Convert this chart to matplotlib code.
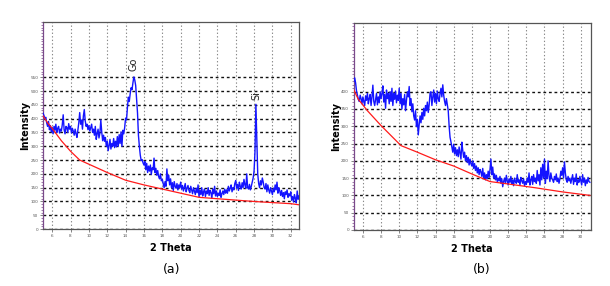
import matplotlib
matplotlib.use("Agg")
import matplotlib.pyplot as plt
import numpy as np
from matplotlib.ticker import MultipleLocator

# XRD scan (a): start angle, step, intensities
start_a, step_a = 5.0, 0.1
intensity_a = [
    420, 412, 398, 405, 385, 372, 390, 360, 375, 352,
    368, 345, 372, 358, 380, 350, 365, 372, 348, 362,
    355, 378, 414, 360, 345, 372, 368, 350, 382, 362,
    372, 348, 365, 355, 340, 362, 345, 332, 360, 385,
    422, 380, 395, 362, 410, 433, 392, 372, 380, 360,
    375, 355, 368, 380, 350, 362, 340, 372, 325, 345,
    362, 330, 348, 395, 352, 320, 340, 318, 332, 300,
    318, 284, 302, 325, 290, 310, 300, 328, 295, 318,
    298, 335, 300, 342, 310, 352, 300, 358, 345, 368,
    402, 395, 440, 478, 462, 490, 512, 505, 530, 551,
    540, 520, 470, 420, 340, 300, 268, 248, 252, 240,
    232, 245, 215, 238, 205, 228, 210, 232, 198, 222,
    215, 257, 205, 220, 195, 212, 190, 182, 200, 175,
    180, 165, 150, 172, 155, 218, 175, 195, 160, 182,
    150, 168, 140, 172, 155, 148, 165, 142, 160, 150,
    170, 145, 158, 138, 152, 165, 135, 148, 158, 140,
    132, 155, 142, 128, 150, 138, 125, 148, 132, 160,
    118, 140, 125, 150, 120, 135, 145, 118, 138, 128,
    150, 122, 140, 132, 112, 145, 128, 155, 120, 138,
    118, 130, 122, 142, 115, 128, 138, 125, 145, 130,
    142, 130, 155, 138, 148, 160, 135, 150, 142, 165,
    176, 148, 162, 140, 170, 155, 145, 168, 150, 180,
    160, 148, 200, 150, 145, 162, 142, 155, 170, 185,
    210, 280, 452, 330, 200, 165, 150, 175, 160, 185,
    170, 150, 145, 165, 135, 160, 142, 130, 150, 138,
    125, 148, 135, 160, 142, 170, 130, 150, 138, 122,
    140, 118, 132, 110, 135, 125, 142, 115, 128, 120,
    135, 105, 118, 98, 125, 112, 95, 138, 108, 120,
]
bg_x_a = [5, 5.5, 6, 7, 8, 9, 10, 12, 14, 16, 18, 20, 22, 24, 26, 28, 30, 32, 32.9]
bg_y_a = [410, 385, 365, 320, 282, 250, 235, 205, 177, 160, 145, 130, 115, 110, 105, 100, 96, 92, 88]

# XRD scan (b)
start_b, step_b = 5.0, 0.1
intensity_b = [
    430, 440, 425, 402, 390, 378, 372, 390, 380, 365,
    385, 372, 360, 388, 375, 395, 365, 380, 392, 360,
    385, 419, 372, 360, 378, 395, 362, 385, 368, 400,
    380, 395, 417, 370, 392, 352, 405, 380, 395, 365,
    400, 372, 410, 360, 395, 378, 402, 368, 390, 375,
    410, 365, 395, 350, 380, 362, 392, 345, 375, 400,
    385, 415, 360, 380, 342, 365, 330, 318, 345, 300,
    320, 275, 305, 330, 310, 340, 320, 352, 330, 360,
    345, 370, 340, 362, 395, 400, 360, 385, 405, 370,
    395, 365, 402, 380, 372, 395, 410, 385, 420, 390,
    372, 360, 380, 362, 345, 300, 268, 255, 240, 225,
    248, 220, 238, 215, 232, 212, 240, 222, 205, 254,
    230, 210, 225, 200, 215, 195, 210, 188, 205, 192,
    185, 200, 178, 192, 172, 185, 165, 180, 160, 175,
    168, 155, 178, 150, 165, 145, 160, 148, 170, 152,
    175, 205, 160, 182, 150, 162, 145, 158, 140, 150,
    142, 155, 135, 148, 125, 140, 150, 135, 158, 142,
    130, 148, 138, 155, 132, 145, 128, 150, 140, 135,
    160, 138, 145, 130, 152, 142, 135, 148, 128, 140,
    132, 150, 138, 165, 130, 145, 155, 132, 160, 140,
    150, 135, 172, 142, 160, 130, 180, 145, 190, 150,
    205, 135, 170, 148, 200, 155, 140, 165, 150, 145,
    138, 155, 145, 162, 140, 150, 135, 148, 170, 158,
    180, 150, 197, 165, 145, 138, 155, 142, 150, 135,
    148, 160, 132, 150, 140, 162, 130, 145, 138, 155,
    142, 130, 160, 138, 150, 128, 145, 135, 152, 140,
    138,
]
bg_x_b = [5, 5.5, 6.5, 8, 10.2, 12, 14, 16, 18, 20, 22, 25, 28, 31]
bg_y_b = [405, 378, 345, 302, 244, 225, 203, 185, 162, 140, 133, 122, 110, 100]


def xrd_panel(ax, x, y, bgx, bgy, xlim, ylim, ymax_tick, xmax_tick):
    ax.plot(x, y, color="#1414ff", lw=1.0, zorder=3)
    ax.plot(bgx, bgy, color="#ff1a1a", lw=0.9, zorder=4)
    ax.set_xlim(*xlim)
    ax.set_ylim(*ylim)
    ax.set_xticks(np.arange(6, xmax_tick + 1, 2))
    ax.set_yticks(np.arange(0, ymax_tick + 1, 50))
    ax.yaxis.set_minor_locator(MultipleLocator(10))
    ax.tick_params(axis="both", labelsize=3, colors="#555555", length=2, width=0.5, pad=1.5)
    ax.tick_params(axis="y", which="minor", length=1.5, width=0.5, colors="#7a4a8a")
    ax.grid(axis="y", color="#111111", ls=(0, (2, 2)), lw=1.0, zorder=1)
    ax.grid(axis="x", color="#888888", ls=(0, (1.2, 2)), lw=0.8, zorder=1)
    for s in ax.spines.values():
        s.set_color("#555555")
        s.set_linewidth(0.9)
    ax.spines["left"].set_color("#7a4a8a")
    ax.set_xlabel("2 Theta", fontsize=7, fontweight="bold", labelpad=3.5)
    ax.set_ylabel("Intensity", fontsize=7, fontweight="bold", labelpad=0)


fig = plt.figure(figsize=(6.1, 2.86), dpi=100)

tt_a = start_a + step_a * np.arange(len(intensity_a))
ax1 = fig.add_axes([0.0705, 0.199, 0.4197, 0.724])
xrd_panel(ax1, tt_a, intensity_a, bg_x_a, bg_y_a, (5, 32.9), (0, 750), 550, 32)
ax1.text(14.9, 598, "Go", rotation=90, ha="center", va="center", fontsize=7, color="#222222")
ax1.text(28.3, 482, "Si", rotation=90, ha="center", va="center", fontsize=7, color="#222222")

tt_b = start_b + step_b * np.arange(len(intensity_b))
ax2 = fig.add_axes([0.580, 0.196, 0.3885, 0.725])
xrd_panel(ax2, tt_b, intensity_b, bg_x_b, bg_y_b, (5, 31.1), (0, 600), 400, 30)

fig.text(172 / 610, 1 - 270 / 286, "(a)", ha="center", va="center", fontsize=9)
fig.text(482 / 610, 1 - 270 / 286, "(b)", ha="center", va="center", fontsize=9)

fig.savefig("out.png", dpi=100)
